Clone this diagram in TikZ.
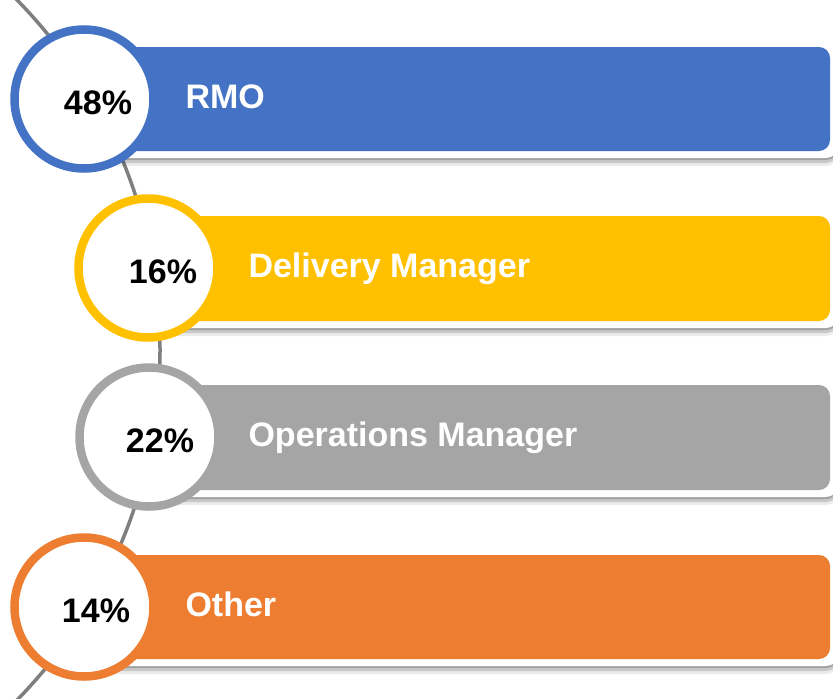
\documentclass[tikz,border=0pt]{standalone}
\usepackage{fontspec}
\setmainfont{Liberation Sans}
\usetikzlibrary{shadows,positioning,calc}
\definecolor{rmoblue}{HTML}{4472C4}
\definecolor{dmyellow}{HTML}{FFC000}
\definecolor{omgray}{HTML}{A5A5A5}
\definecolor{othorange}{HTML}{ED7D31}
\definecolor{arcgray}{HTML}{7F7F7F}

\begin{document}
\begin{tikzpicture}[x=1pt,y=-1pt,
	backing/.style={fill=white, rounded corners=12pt,
		drop shadow={shadow xshift=0pt, shadow yshift=-8pt, opacity=0.08, fill=black},
		drop shadow={shadow xshift=0pt, shadow yshift=-5pt, opacity=0.15, fill=black},
		drop shadow={shadow xshift=0pt, shadow yshift=-2pt, opacity=0.2, fill=black}},
	bar/.style={rounded corners=11pt},
	ring/.style={circle, draw, line width=8.5pt, fill=white, minimum size=139pt, inner sep=0pt},
	pct/.style={font=\fontsize{34}{40}\selectfont\bfseries, text=black, anchor=base},
	lbl/.style={font=\fontsize{34}{40}\selectfont\bfseries, text=white, anchor=base west}]
	\useasboundingbox (0,0) rectangle (833,699);
	\clip (0,0) rectangle (833,699);
	% the arc behind the rings
	\draw [arcgray, line width=3.5pt] (-340,350) ++(-47:500) arc[start angle=-47, end angle=47, radius=500];
	% RMO
	\path [backing] (84,38) rectangle (838,158);
	\fill [rmoblue, bar] (84,47) rectangle (830,151);
	\node [ring, draw=rmoblue] (c1) at (84,99) {};
	\node [pct] (p1) at ($(c1.center)+(14,15)$) {48\%};
	\node [lbl] (l1) at ($(c1.center)+(98,9)$) {RMO};
	% Delivery Manager
	\path [backing] (148,207) rectangle (838,328);
	\fill [dmyellow, bar] (148,216) rectangle (830,321);
	\node [ring, draw=dmyellow] (c2) at (148,268) {};
	\node [pct] (p2) at ($(c2.center)+(15,15)$) {16\%};
	\node [lbl] (l2) at ($(c2.center)+(97,9)$) {Delivery Manager};
	% Operations Manager
	\path [backing] (149,376) rectangle (838,497);
	\fill [omgray, bar] (149,385) rectangle (830,490);
	\node [ring, draw=omgray] (c3) at (149,437) {};
	\node [pct] (p3) at ($(c3.center)+(11,15)$) {22\%};
	\node [lbl] (l3) at ($(c3.center)+(96,9)$) {Operations Manager};
	% Other
	\path [backing] (84,546) rectangle (838,666);
	\fill [othorange, bar] (84,555) rectangle (830,659);
	\node [ring, draw=othorange] (c4) at (84,607) {};
	\node [pct] (p4) at ($(c4.center)+(12,15)$) {14\%};
	\node [lbl] (l4) at ($(c4.center)+(98,9)$) {Other};
\end{tikzpicture}
\end{document}
